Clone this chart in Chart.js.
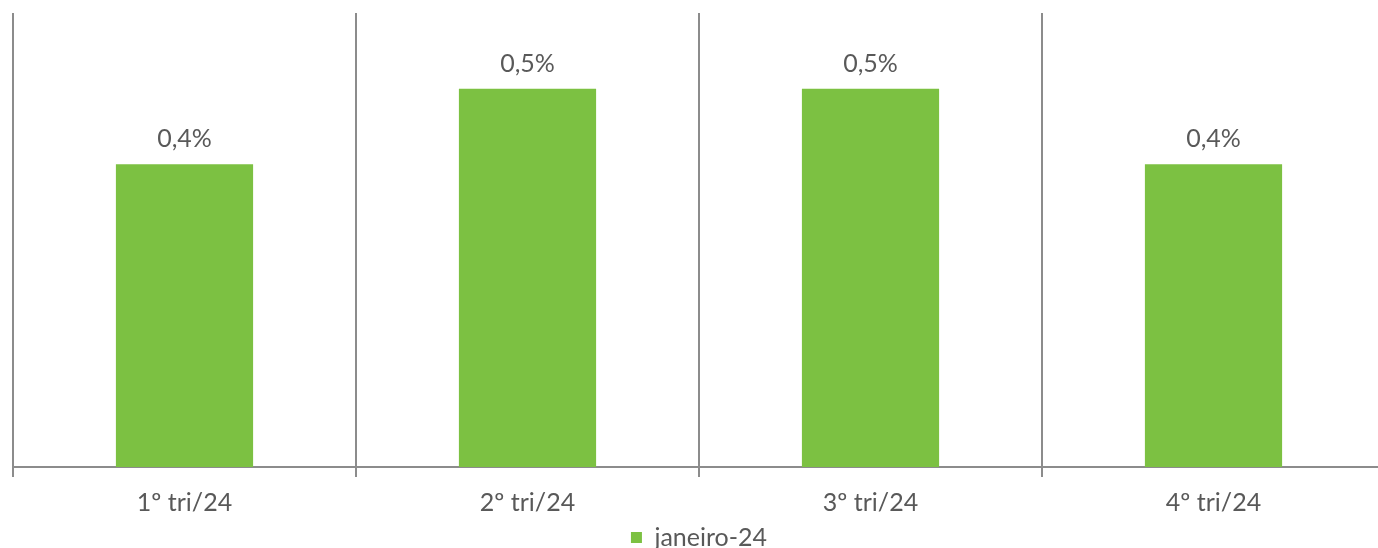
<!DOCTYPE html>
<html>
<head>
<meta charset="utf-8">
<script src="https://cdn.jsdelivr.net/npm/chart.js@4/dist/chart.umd.min.js"></script>
<style>
  html, body { margin: 0; padding: 0; background: #fff; overflow: hidden; }
  #wrap { width: 1392px; height: 560px; }
</style>
</head>
<body>
<div id="wrap"><canvas id="chart"></canvas></div>
<script>
const categories = ["1º tri/24", "2º tri/24", "3º tri/24", "4º tri/24"];
const seriesName = "janeiro-24";
const values = [0.4, 0.5, 0.5, 0.4];

const textColor = "#595959";
const lineColor = "#8c8c8c";
const barColor = "#7cc142";
const fontFamily = "Lato, 'Open Sans', sans-serif";

// value labels over each bar, "0,4%" style
const barLabels = {
  id: "barLabels",
  afterDatasetsDraw(chart) {
    const ctx = chart.ctx;
    const meta = chart.getDatasetMeta(0);
    ctx.save();
    ctx.fillStyle = textColor;
    ctx.font = `25px ${fontFamily}`;
    ctx.textAlign = "center";
    ctx.textBaseline = "middle";
    meta.data.forEach((bar, i) => {
      const txt = values[i].toFixed(1).replace(".", ",") + "%";
      ctx.fillText(txt, bar.x, bar.y - 25);
    });
    ctx.restore();
  },
};

new Chart(document.getElementById("chart"), {
  type: "bar",
  data: {
    labels: categories,
    datasets: [
      {
        label: seriesName,
        data: values,
        backgroundColor: barColor,
        barPercentage: 0.4,
        categoryPercentage: 1,
      },
    ],
  },
  options: {
    responsive: true,
    maintainAspectRatio: false,
    animation: false,
    layout: {
      padding: { left: 13, right: 7, top: 13, bottom: 0 },
    },
    plugins: {
      legend: {
        position: "bottom",
        labels: {
          color: textColor,
          boxWidth: 11,
          boxHeight: 11,
          padding: 0,
          font: { family: fontFamily, size: 25, lineHeight: 1.1 },
        },
      },
      tooltip: { enabled: false },
    },
    scales: {
      x: {
        offset: true,
        // tighten the gap between the tick labels and the legend
        afterFit: (scale) => {
          scale.height -= 4;
        },
        grid: {
          offset: true,
          color: lineColor,
          lineWidth: 2,
          tickLength: 10,
        },
        border: { color: lineColor, width: 2 },
        ticks: {
          color: textColor,
          padding: 15,
          font: { family: fontFamily, size: 25, lineHeight: 0.88 },
        },
      },
      y: {
        display: false,
        min: 0,
        max: 0.6,
      },
    },
  },
  plugins: [barLabels],
});
</script>
</body>
</html>
